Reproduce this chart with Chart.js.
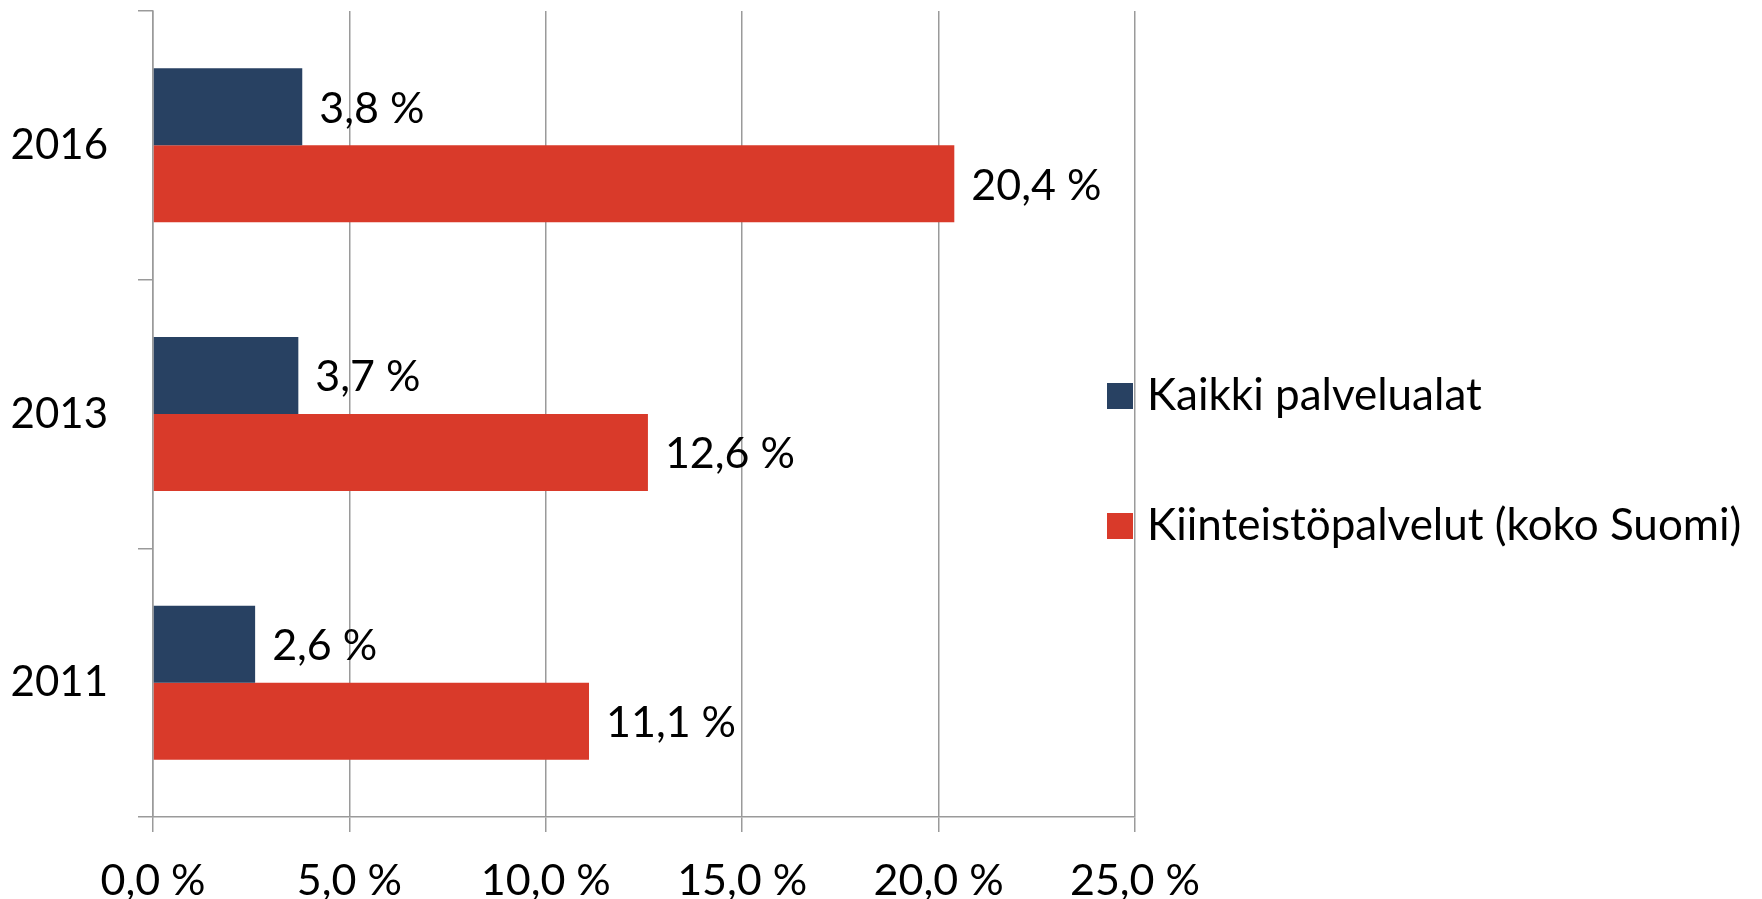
<!DOCTYPE html>
<html lang="fi">
<head>
  <meta charset="UTF-8">
  <title>Kiinteistöpalvelut</title>
  <script src="https://cdn.jsdelivr.net/npm/chart.js"></script>
  <style>
    body { margin: 0; background: #fff; }
    #wrap { width: 1762px; height: 899px; }
  </style>
</head>
<body>
  <div id="wrap">
    <canvas id="myBarChart" width="1762" height="899"></canvas>
  </div>

  <script>
    // Data
    const vuodet = ['2016', '2013', '2011'];
    const kaikkiPalvelualat = [3.8, 3.7, 2.6];
    const kiinteistopalvelut = [20.4, 12.6, 11.1];
    const sarjaNimet = ['Kaikki palvelualat', 'Kiinteistöpalvelut (koko Suomi)'];
    const xTicks = [0, 5, 10, 15, 20, 25];

    const fontti = 'Lato, "Open Sans", sans-serif';
    const harmaa = '#9a9a9a';

    function prosentti(v) {
      return Number(v).toFixed(1).replace('.', ',') + ' %';
    }

    // Arvot palkkien perään
    const arvoLabelit = {
      id: 'arvoLabelit',
      afterDatasetsDraw(chart) {
        const ctx = chart.ctx;
        ctx.save();
        ctx.font = '43px ' + fontti;
        ctx.fillStyle = '#000';
        ctx.textAlign = 'left';
        ctx.textBaseline = 'middle';
        chart.data.datasets.forEach((ds, i) => {
          chart.getDatasetMeta(i).data.forEach((bar, j) => {
            ctx.fillText(prosentti(ds.data[j]), bar.x + 17, bar.y + 2);
          });
        });
        ctx.restore();
      }
    };

    // Selite oikealle (osittain kaavioalueen päälle kuten alkuperäisessä)
    const selite = {
      id: 'selite',
      afterDraw(chart) {
        const ctx = chart.ctx;
        const x = chart.chartArea.right - 28;
        const rivit = [396, 526];
        ctx.save();
        ctx.font = '44px ' + fontti;
        ctx.textAlign = 'left';
        ctx.textBaseline = 'middle';
        chart.data.datasets.forEach((ds, i) => {
          ctx.fillStyle = ds.backgroundColor;
          ctx.fillRect(x, rivit[i] - 13, 26, 26);
          ctx.fillStyle = '#000';
          ctx.fillText(ds.label, x + 40, rivit[i]);
        });
        ctx.restore();
      }
    };

    const ctx = document.getElementById('myBarChart').getContext('2d');

    new Chart(ctx, {
      type: 'bar',
      data: {
        labels: vuodet,
        datasets: [{
          label: sarjaNimet[0],
          data: kaikkiPalvelualat,
          backgroundColor: '#284162',
          categoryPercentage: 0.573,
          barPercentage: 1.0
        }, {
          label: sarjaNimet[1],
          data: kiinteistopalvelut,
          backgroundColor: '#d93a2a',
          categoryPercentage: 0.573,
          barPercentage: 1.0
        }]
      },
      options: {
        indexAxis: 'y',
        responsive: false,
        animation: false,
        layout: { padding: { top: 11, right: 627, left: 0, bottom: 0 } },
        plugins: {
          legend: { display: false },
          tooltip: { enabled: false }
        },
        scales: {
          x: {
            min: 0,
            max: 25,
            afterBuildTicks(scale) {
              scale.ticks = xTicks.map(v => ({ value: v }));
            },
            afterFit(scale) {
              scale.height = 82;
              scale.paddingLeft = 0;
              scale.paddingRight = 0;
            },
            grid: {
              color: harmaa,
              lineWidth: 1.5,
              tickLength: 15,
              drawOnChartArea: true
            },
            border: { color: harmaa, width: 1.5 },
            ticks: {
              padding: 23,
              color: '#000',
              font: { family: fontti, size: 43 },
              callback: v => prosentti(v)
            }
          },
          y: {
            afterFit(scale) {
              scale.width = 153;
              scale.paddingTop = 0;
              scale.paddingBottom = 0;
            },
            grid: {
              offset: true,
              color: harmaa,
              lineWidth: 1.5,
              tickLength: 15,
              drawOnChartArea: false
            },
            border: { color: harmaa, width: 1.5 },
            ticks: {
              padding: 30,
              color: '#000',
              font: { family: fontti, size: 42 }
            }
          }
        }
      },
      plugins: [arvoLabelit, selite]
    });
  </script>
</body>
</html>
